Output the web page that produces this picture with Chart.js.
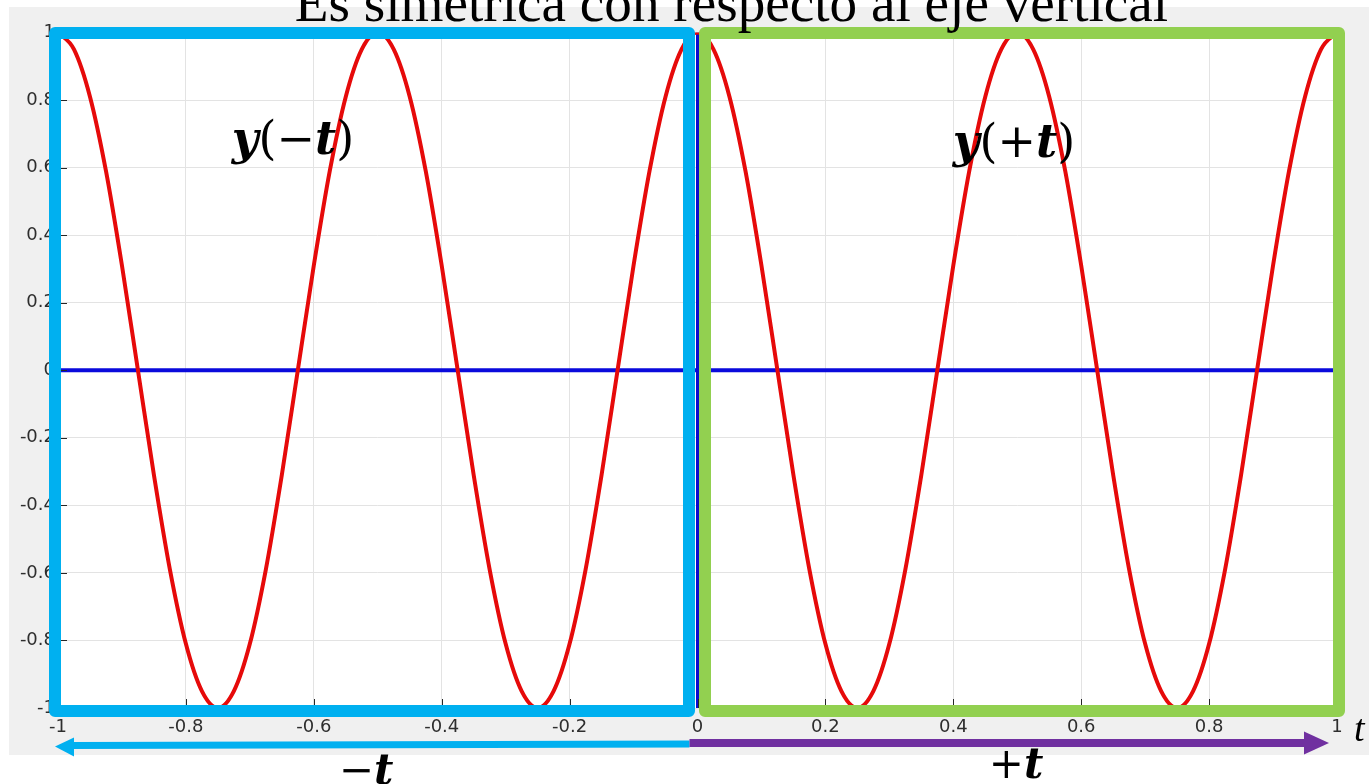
<!DOCTYPE html>
<html>
<head>
<meta charset="utf-8">
<script src="https://cdn.jsdelivr.net/npm/chart.js@4.4.1/dist/chart.umd.min.js"></script>
<style>
  html, body { margin: 0; padding: 0; background: #ffffff; overflow: hidden; }
  #wrap { width: 1369px; height: 784px; position: relative; }
  canvas { display: block; }
</style>
</head>
<body>
<div id="wrap"><canvas id="c" width="1369" height="784"></canvas></div>
<script>
// ---- data ----
const tValues = [
  -1, -0.975, -0.95, -0.925, -0.9, -0.875, -0.85, -0.825, -0.8, -0.775,
  -0.75, -0.725, -0.7, -0.675, -0.65, -0.625, -0.6, -0.575, -0.55, -0.525,
  -0.5, -0.475, -0.45, -0.425, -0.4, -0.375, -0.35, -0.325, -0.3, -0.275,
  -0.25, -0.225, -0.2, -0.175, -0.15, -0.125, -0.1, -0.075, -0.05, -0.025,
  0, 0.025, 0.05, 0.075, 0.1, 0.125, 0.15, 0.175, 0.2, 0.225,
  0.25, 0.275, 0.3, 0.325, 0.35, 0.375, 0.4, 0.425, 0.45, 0.475,
  0.5, 0.525, 0.55, 0.575, 0.6, 0.625, 0.65, 0.675, 0.7, 0.725,
  0.75, 0.775, 0.8, 0.825, 0.85, 0.875, 0.9, 0.925, 0.95, 0.975,
  1
];
const yValues = [
  1, 0.95, 0.81, 0.59, 0.31, 0, -0.31, -0.59, -0.81, -0.95,
  -1, -0.95, -0.81, -0.59, -0.31, 0, 0.31, 0.59, 0.81, 0.95,
  1, 0.95, 0.81, 0.59, 0.31, 0, -0.31, -0.59, -0.81, -0.95,
  -1, -0.95, -0.81, -0.59, -0.31, 0, 0.31, 0.59, 0.81, 0.95,
  1, 0.95, 0.81, 0.59, 0.31, 0, -0.31, -0.59, -0.81, -0.95,
  -1, -0.95, -0.81, -0.59, -0.31, 0, 0.31, 0.59, 0.81, 0.95,
  1, 0.95, 0.81, 0.59, 0.31, 0, -0.31, -0.59, -0.81, -0.95,
  -1, -0.95, -0.81, -0.59, -0.31, 0, 0.31, 0.59, 0.81, 0.95,
  1
];
const zeroLineT = [-1, 1];
const zeroLineY = [0, 0];
const vAxisT = [0, 0];
const vAxisY = [-1, 1];
const xTickLabels = ['-1', '-0.8', '-0.6', '-0.4', '-0.2', '0', '0.2', '0.4', '0.6', '0.8', '1'];
const yTickLabels = ['-1', '-0.8', '-0.6', '-0.4', '-0.2', '0', '0.2', '0.4', '0.6', '0.8', '1'];
const titleText = 'Es simetrica con respecto al eje vertical';

// ---- build library structures ----
const toXY = (xs, ys) => xs.map((x, i) => ({ x: x, y: ys[i] }));

const W = 1369, H = 784;

function drawMath(ctx, parts, cx, baseline, size, family) {
  let total = 0;
  const widths = parts.map(p => {
    ctx.font = (p.b ? 'italic bold ' : '') + size + 'px ' + family;
    const w = ctx.measureText(p.s).width;
    total += w;
    return w;
  });
  let x = cx - total / 2;
  ctx.textAlign = 'left';
  ctx.textBaseline = 'alphabetic';
  parts.forEach((p, i) => {
    ctx.font = (p.b ? 'italic bold ' : '') + size + 'px ' + family;
    ctx.fillText(p.s, x, baseline);
    x += widths[i];
  });
}

const deco = {
  id: 'deco',
  beforeDraw(chart) {
    const c = chart.ctx, a = chart.chartArea;
    c.save();
    c.fillStyle = '#ffffff';
    c.fillRect(0, 0, W, H);
    c.fillStyle = '#f0f0f0';
    c.fillRect(9, 7, W - 9, 748);
    c.fillStyle = '#ffffff';
    c.fillRect(a.left, a.top, a.right - a.left, a.bottom - a.top);
    c.restore();
  },
  afterDatasetsDraw(chart) {
    const c = chart.ctx, a = chart.chartArea;
    const xs = chart.scales.x, ys = chart.scales.y;
    c.save();
    // inward tick marks
    c.strokeStyle = '#262626';
    c.lineWidth = 1;
    xs.ticks.forEach(t => {
      const px = Math.round(xs.getPixelForValue(t.value)) + 0.5;
      c.beginPath(); c.moveTo(px, a.bottom); c.lineTo(px, a.bottom - 9); c.stroke();
    });
    ys.ticks.forEach(t => {
      const py = Math.round(ys.getPixelForValue(t.value)) + 0.5;
      c.beginPath(); c.moveTo(a.left, py); c.lineTo(a.left + 9, py); c.stroke();
    });
    // highlight rectangles
    const L = xs.getPixelForValue(-1), X0 = xs.getPixelForValue(0), R = xs.getPixelForValue(1);
    const T = ys.getPixelForValue(1), B = ys.getPixelForValue(-1);
    c.lineWidth = 12;
    c.lineJoin = 'round';
    c.strokeStyle = '#00b0f0';
    c.strokeRect(L - 3, T + 0.5, (X0 - 8.5) - (L - 3), (B + 3) - (T + 0.5));
    c.strokeStyle = '#92d050';
    c.strokeRect(X0 + 7.5, T + 0.5, (R + 2) - (X0 + 7.5), (B + 3) - (T + 0.5));
    c.restore();
  },
  afterDraw(chart) {
    const c = chart.ctx;
    const xs = chart.scales.x;
    const X0 = xs.getPixelForValue(0), L = xs.getPixelForValue(-1), R = xs.getPixelForValue(1);
    c.save();
    // title, fitted to its width in the picture
    c.fillStyle = '#000000';
    c.font = '100px "Liberation Serif"';
    const tw = c.measureText(titleText).width;
    const ts = 100 * 873 / tw;
    c.font = ts.toFixed(1) + 'px "Liberation Serif"';
    c.textAlign = 'center';
    c.textBaseline = 'alphabetic';
    c.fillText(titleText, 731.5, 21);

    // arrows
    c.strokeStyle = '#00b0f0';
    c.fillStyle = '#00b0f0';
    c.lineWidth = 7;
    c.beginPath(); c.moveTo(X0 - 8, 744); c.lineTo(L + 15, 745.5); c.stroke();
    c.beginPath(); c.moveTo(L - 3, 746.5); c.lineTo(L + 16, 737.5); c.lineTo(L + 16, 756.5); c.closePath(); c.fill();

    c.strokeStyle = '#7030a0';
    c.fillStyle = '#7030a0';
    c.lineWidth = 8;
    c.beginPath(); c.moveTo(X0 - 8, 743); c.lineTo(R - 32, 743); c.stroke();
    c.beginPath(); c.moveTo(R - 8, 743); c.lineTo(R - 33, 731.5); c.lineTo(R - 33, 754.5); c.closePath(); c.fill();

    // math labels
    c.fillStyle = '#000000';
    const fam = '"DejaVu Serif"';
    drawMath(c, [{ s: 'y', b: true }, { s: '(' }, { s: '\u2212' }, { s: 't', b: true }, { s: ')' }], 293, 154, 46, fam);
    drawMath(c, [{ s: 'y', b: true }, { s: '(' }, { s: '+' }, { s: 't', b: true }, { s: ')' }], 1014, 157, 46, fam);
    drawMath(c, [{ s: '\u2212' }, { s: 't', b: true }], 366, 784, 42, fam);
    drawMath(c, [{ s: '+' }, { s: 't', b: true }], 1016, 778, 42, fam);
    c.font = 'italic 38px "Liberation Serif"';
    c.textAlign = 'left';
    c.fillText('t', 1354, 741);
    c.restore();
  }
};

new Chart(document.getElementById('c'), {
  type: 'line',
  data: {
    datasets: [
      {
        data: toXY(zeroLineT, zeroLineY),
        borderColor: '#0a0adc',
        borderWidth: 4,
        pointRadius: 0,
        order: 3
      },
      {
        data: toXY(vAxisT, vAxisY),
        borderColor: '#0a0ad0',
        borderWidth: 3,
        pointRadius: 0,
        order: 2
      },
      {
        data: toXY(tValues, yValues),
        borderColor: '#e60a0a',
        borderWidth: 4,
        pointRadius: 0,
        cubicInterpolationMode: 'monotone',
        order: 1
      }
    ]
  },
  options: {
    responsive: false,
    devicePixelRatio: 1,
    animation: false,
    events: [],
    layout: { padding: { top: 32.5, right: 32, left: 0, bottom: 0 } },
    plugins: { legend: { display: false }, tooltip: { enabled: false }, title: { display: false } },
    scales: {
      x: {
        type: 'linear',
        min: -1, max: 1,
        border: { display: false },
        grid: { color: '#e3e3e3', lineWidth: 1, drawTicks: false },
        ticks: {
          stepSize: 0.2,
          padding: 9,
          maxRotation: 0,
          autoSkip: false,
          color: '#2e2e2e',
          font: { family: '"DejaVu Sans"', size: 18 },
          callback: (v, i) => xTickLabels[i]
        },
        afterFit(scale) {
          scale.height = 76;
          scale.paddingLeft = 0;
          scale.paddingRight = 0;
        }
      },
      y: {
        type: 'linear',
        min: -1, max: 1,
        border: { display: false },
        grid: { color: '#e3e3e3', lineWidth: 1, drawTicks: false },
        ticks: {
          stepSize: 0.2,
          padding: 3,
          autoSkip: false,
          color: '#2e2e2e',
          font: { family: '"DejaVu Sans"', size: 18 },
          callback: (v, i) => yTickLabels[i]
        },
        afterFit(scale) {
          scale.width = 58;
          scale.paddingTop = 0;
          scale.paddingBottom = 0;
        }
      }
    }
  },
  plugins: [deco]
});
</script>
</body>
</html>
